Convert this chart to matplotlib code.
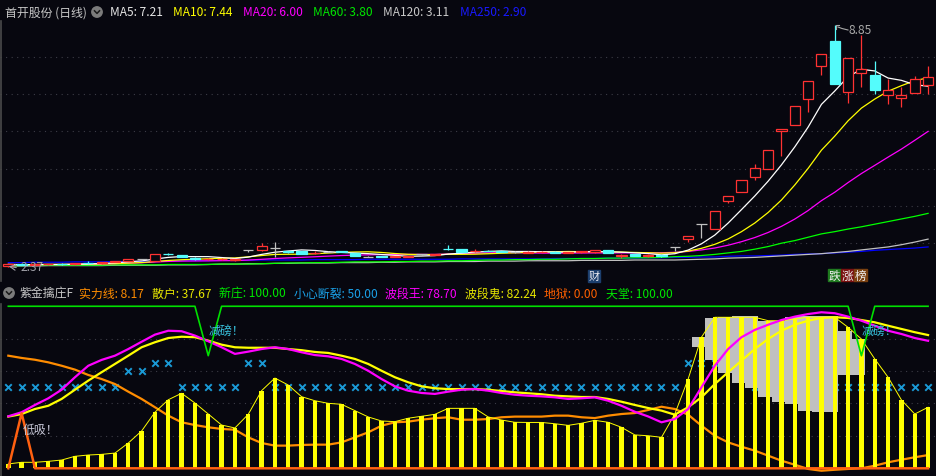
#!/usr/bin/env python
# Stock chart: candles + MAs on top, "紫金擒庄F" indicator below

import numpy as np
import pandas as pd
import matplotlib
matplotlib.use('Agg')
import matplotlib.pyplot as plt
from matplotlib.patches import Circle, Rectangle

plt.rcParams['font.family'] = ['Noto Sans CJK SC', 'DejaVu Sans']

# ---------------- data ----------------
opens = [2.38, 2.43, 2.42, 2.43, 2.44, 2.43, 2.47, 2.46, 2.50, 2.52,
         2.58, 2.53, 2.72, 2.68, 2.60, 2.57, 2.58, 2.54, 2.82, 2.82,
         2.87, 2.79, 2.79, 2.74, 2.77, 2.78, 2.73, 2.64, 2.65, 2.63,
         2.64, 2.70, 2.69, 2.85, 2.84, 2.78, 2.80, 2.79, 2.76, 2.74,
         2.76, 2.77, 2.75, 2.76, 2.76, 2.82, 2.67, 2.71, 2.65, 2.68,
         2.89, 3.10, 3.51, 3.38, 4.12, 4.36, 4.77, 4.98, 6.00, 6.16,
         6.86, 7.74, 8.42, 7.05, 7.56, 7.50, 6.98, 6.89, 7.02, 7.25]
highs = [2.44, 2.45, 2.44, 2.44, 2.46, 2.47, 2.52, 2.50, 2.52, 2.58,
         2.59, 2.71, 2.74, 2.69, 2.62, 2.60, 2.60, 2.59, 2.82, 3.00,
         3.04, 2.80, 2.80, 2.79, 2.78, 2.80, 2.74, 2.66, 2.66, 2.66,
         2.66, 2.71, 2.72, 2.96, 2.85, 2.84, 2.82, 2.80, 2.78, 2.78,
         2.78, 2.79, 2.77, 2.80, 2.83, 2.83, 2.70, 2.72, 2.70, 2.69,
         2.89, 3.18, 3.51, 3.86, 4.26, 4.69, 5.12, 5.49, 6.05, 6.67,
         7.34, 8.06, 8.85, 7.97, 8.58, 7.88, 7.40, 7.18, 7.47, 7.74]
lows = [2.37, 2.41, 2.41, 2.42, 2.42, 2.42, 2.45, 2.45, 2.49, 2.51,
        2.56, 2.52, 2.68, 2.62, 2.55, 2.55, 2.56, 2.53, 2.77, 2.78,
        2.64, 2.75, 2.71, 2.72, 2.76, 2.76, 2.66, 2.62, 2.62, 2.62,
        2.63, 2.68, 2.68, 2.83, 2.76, 2.77, 2.78, 2.76, 2.75, 2.73,
        2.75, 2.74, 2.74, 2.75, 2.75, 2.73, 2.61, 2.66, 2.62, 2.64,
        2.80, 3.03, 3.13, 3.38, 4.08, 4.36, 4.70, 4.98, 5.33, 6.16,
        6.51, 7.51, 7.28, 6.75, 7.20, 7.00, 6.72, 6.66, 7.02, 7.00]
closes = [2.43, 2.42, 2.43, 2.44, 2.43, 2.46, 2.46, 2.49, 2.52, 2.58,
          2.58, 2.71, 2.71, 2.63, 2.57, 2.58, 2.59, 2.58, 2.82, 2.93,
          2.87, 2.76, 2.72, 2.75, 2.77, 2.77, 2.67, 2.64, 2.64, 2.65,
          2.65, 2.70, 2.70, 2.84, 2.77, 2.80, 2.79, 2.77, 2.76, 2.77,
          2.77, 2.75, 2.76, 2.79, 2.82, 2.74, 2.69, 2.67, 2.69, 2.65,
          2.89, 3.18, 3.51, 3.86, 4.26, 4.69, 5.01, 5.49, 6.05, 6.67,
          7.34, 8.06, 7.28, 7.97, 7.66, 7.12, 7.11, 6.97, 7.39, 7.45]

ma60 = [2.40, 2.40, 2.41, 2.41, 2.41, 2.41, 2.41, 2.41, 2.42, 2.42,
        2.42, 2.42, 2.43, 2.43, 2.43, 2.43, 2.44, 2.44, 2.44, 2.45,
        2.46, 2.47, 2.47, 2.48, 2.48, 2.49, 2.50, 2.50, 2.50, 2.51,
        2.51, 2.52, 2.52, 2.53, 2.53, 2.54, 2.55, 2.55, 2.56, 2.56,
        2.57, 2.57, 2.58, 2.59, 2.59, 2.60, 2.60, 2.61, 2.61, 2.62,
        2.64, 2.65, 2.67, 2.70, 2.74, 2.78, 2.84, 2.91, 3.00, 3.07,
        3.16, 3.25, 3.31, 3.38, 3.44, 3.51, 3.58, 3.65, 3.72, 3.80]
ma120 = [2.39, 2.39, 2.39, 2.40, 2.40, 2.40, 2.40, 2.40, 2.41, 2.41,
         2.41, 2.41, 2.42, 2.42, 2.42, 2.43, 2.44, 2.44, 2.45, 2.45,
         2.46, 2.46, 2.47, 2.47, 2.47, 2.48, 2.48, 2.48, 2.49, 2.49,
         2.50, 2.50, 2.50, 2.51, 2.51, 2.51, 2.52, 2.52, 2.52, 2.53,
         2.53, 2.53, 2.53, 2.54, 2.54, 2.54, 2.54, 2.55, 2.55, 2.55,
         2.55, 2.56, 2.57, 2.58, 2.60, 2.61, 2.62, 2.64, 2.66, 2.68,
         2.70, 2.72, 2.75, 2.78, 2.82, 2.86, 2.90, 2.96, 3.03, 3.11]
ma250 = [2.48, 2.48, 2.49, 2.49, 2.49, 2.50, 2.50, 2.50, 2.51, 2.51,
         2.51, 2.52, 2.52, 2.53, 2.53, 2.53, 2.54, 2.54, 2.54, 2.55,
         2.55, 2.55, 2.55, 2.56, 2.56, 2.56, 2.56, 2.57, 2.57, 2.57,
         2.57, 2.57, 2.57, 2.57, 2.58, 2.58, 2.58, 2.58, 2.58, 2.58,
         2.58, 2.59, 2.59, 2.59, 2.59, 2.60, 2.60, 2.60, 2.61, 2.61,
         2.62, 2.62, 2.63, 2.63, 2.65, 2.66, 2.66, 2.67, 2.68, 2.70,
         2.71, 2.72, 2.74, 2.76, 2.78, 2.81, 2.83, 2.85, 2.87, 2.90]

top_names = ['MA5', 'MA10', 'MA20', 'MA60', 'MA120', 'MA250']
top_vals = [7.21, 7.44, 6.00, 3.80, 3.11, 2.90]

# indicator panel
sanhu = [2.7, 3.7, 3.7, 4.3, 5.1, 7.4, 8.2, 8.6, 9.4, 15.6,
         23.0, 34.6, 42.3, 46.3, 40.3, 33.5, 26.7, 24.9, 33.3, 47.9,
         55.7, 51.4, 44.2, 41.7, 40.1, 39.5, 35.6, 31.7, 29.2, 28.8,
         30.9, 32.1, 33.3, 37.0, 37.0, 37.0, 31.7, 29.8, 28.4, 28.3,
         28.3, 27.5, 26.5, 27.8, 29.6, 28.4, 25.3, 20.6, 20.1, 19.1,
         33.5, 55.1, 80.9, 93.2, 93.2, 93.2, 93.2, 91.1, 91.1, 92.2,
         93.2, 93.2, 93.2, 87.0, 79.8, 67.5, 56.2, 42.2, 33.5, 37.67]
bodua_wang = [32.1, 34.6, 39.1, 43.2, 48.5, 56.2, 63.3, 66.9, 69.5, 73.6,
              78.1, 82.5, 84.9, 84.6, 81.9, 78.4, 74.7, 70.6, 72.0, 73.6,
              74.7, 73.6, 71.6, 69.9, 69.1, 67.5, 64.4, 60.2, 55.1, 50.6,
              47.9, 46.5, 45.9, 47.3, 48.5, 48.9, 47.9, 46.5, 45.4, 44.8,
              44.4, 43.8, 42.8, 43.2, 43.8, 41.7, 38.6, 34.9, 32.0, 28.4,
              30.4, 36.6, 50.0, 63.3, 73.6, 80.9, 85.4, 88.6, 91.5, 93.6,
              95.2, 96.3, 95.7, 93.6, 91.1, 88.0, 84.9, 82.9, 80.4, 78.70]
bodua_gui = [31.9, 33.5, 36.6, 38.6, 42.8, 48.5, 54.1, 59.3, 64.4, 69.5,
             74.7, 77.8, 80.4, 81.2, 80.9, 78.8, 76.3, 74.7, 74.4, 74.4,
             74.4, 73.6, 72.9, 71.8, 71.2, 69.5, 67.5, 64.4, 60.2, 56.2,
             53.1, 50.6, 49.4, 48.9, 48.9, 48.9, 48.5, 47.7, 46.9, 46.3,
             45.7, 44.8, 44.4, 44.0, 44.0, 42.8, 41.1, 39.1, 37.2, 35.6,
             33.1, 37.7, 43.8, 52.0, 59.3, 66.4, 73.6, 79.8, 84.9, 88.6,
             91.1, 92.8, 93.2, 92.8, 91.5, 90.1, 88.0, 86.0, 84.0, 82.24]
shili = [69.5, 68.1, 67.0, 65.4, 63.3, 60.9, 57.6, 55.1, 52.0, 47.3,
         42.8, 37.7, 32.5, 28.4, 26.7, 25.3, 24.3, 23.8, 19.1, 15.6,
         14.0, 14.0, 14.4, 14.6, 14.6, 16.0, 19.1, 22.2, 26.3, 28.4,
         28.8, 30.0, 30.9, 31.5, 30.0, 30.0, 30.4, 31.5, 31.9, 31.9,
         31.9, 32.5, 32.5, 31.5, 31.0, 32.5, 33.5, 34.1, 36.0, 38.0,
         36.6, 33.1, 26.3, 20.1, 16.0, 13.3, 10.9, 7.8, 4.7, 2.2,
         -0.4, -1.5, -0.9, -0.4, 0.0, 1.6, 3.7, 5.3, 6.8, 8.17]
xinzhuang_idx = [51, 52, 53, 54, 55, 56, 57, 58, 59, 60, 61, 62, 63]
xinzhuang_top = [80.9, 92.8, 93.2, 93.8, 93.8, 90.7, 90.7, 93.6, 94.2, 94.2, 94.2, 84.9, 79.8]
xinzhuang_bot = [74.7, 67.0, 58.8, 52.5, 49.4, 44.2, 40.7, 39.7, 35.6, 34.6, 34.6, 57.6, 57.6]
duanlie = [50, 50, 50, 50, 50, 50, 50, 50, 50, 60,
           60, 65, 65, 50, 50, 50, 50, 50, 65, 65,
           50, 50, 50, 50, 50, 50, 50, 50, 50, 50,
           50, 50, 50, 50, 50, 50, 50, 50, 50, 50,
           50, 50, 50, 50, 50, 50, 50, 50, 50, 50,
           50, 65, 65, 65, 65, 65, 50, 50, 50, 50,
           50, 50, 50, 50, 50, 50, 50, 50, 50, 50]
tiantang = [100] * 15 + [69.5] + [100] * 48 + [69.5] + [100] * 5
diyu = [0, 34] + [0] * 68
sell_idx = [15, 64]   # 减磅！
buy_idx = [1]         # 低吸！

bot_names = ['实力线', '散户', '新庄', '小心断裂', '波段王', '波段鬼', '地狱', '天堂']
bot_vals = ['8.17', '37.67', '100.00', '50.00', '78.70', '82.24', '0.00', '100.00']

# ---------------- drawing ----------------
BG = '#07070f'
W, H = 937, 477
n = len(closes)
idx = np.arange(n)
cl = pd.Series(closes)
ma5 = cl.rolling(5, min_periods=1).mean()
ma10 = cl.rolling(10, min_periods=1).mean()
ma20 = cl.rolling(20, min_periods=1).mean()

fig = plt.figure(figsize=(W / 100, H / 100), dpi=100, facecolor=BG)

def px_axes(x0, y0, x1, y1):
    return fig.add_axes([x0 / W, 1 - y1 / H, (x1 - x0) / W, (y1 - y0) / H])

xlim = (-0.623, 69.67)

# top panel
ax = px_axes(0, 22, W, 282)
ax.set_facecolor(BG)
ax.set_xlim(*xlim)
ax.set_ylim(1.987, 8.957)
ax.axis('off')
for g in [3, 4, 5, 6, 7, 8]:
    ax.axhline(g, color='#3c3c46', lw=0.8, ls=(0, (1, 4)), zorder=0)

ax.plot(idx, ma250, color='#0000ff', lw=0.9, zorder=1)
ax.plot(idx, ma120, color='#c0c0c0', lw=0.9, zorder=1)
ax.plot(idx, ma60, color='#00ff00', lw=0.9, zorder=1)
ax.plot(idx, ma20, color='#ff00ff', lw=0.9, zorder=1)
ax.plot(idx, ma10, color='#ffff00', lw=0.9, zorder=1)
ax.plot(idx, ma5, color='#ffffff', lw=0.9, zorder=1)

for i in range(n):
    o, h, l, c = opens[i], highs[i], lows[i], closes[i]
    if c > o:
        col, face = '#ff3232', BG
    elif c < o:
        col, face = '#54fcfc', '#54fcfc'
    else:
        col, face = '#c0c0c0', BG
    ax.vlines(i, l, h, color=col, lw=0.9, zorder=2)
    if c == o:
        ax.hlines(o, i - 0.38, i + 0.38, color=col, lw=0.9, zorder=3)
    else:
        ax.bar(i, abs(c - o), bottom=min(o, c), width=0.76, color=face,
               edgecolor=col, linewidth=0.9, zorder=3)

# bottom panel
ax2 = px_axes(0, 305, W, H)
ax2.set_facecolor(BG)
ax2.set_xlim(*xlim)
ax2.set_ylim(-4.75, 101.4)
ax2.axis('off')
for g in [20, 40, 60, 80]:
    ax2.axhline(g, color='#3c3c46', lw=0.8, ls=(0, (1, 4)), zorder=0)

ax2.scatter(idx, duanlie, marker='x', s=22, color='#1a9ad6', linewidths=1.4, zorder=1)
ax2.bar(np.array(xinzhuang_idx) + 0.27, np.array(xinzhuang_top) - np.array(xinzhuang_bot),
        bottom=xinzhuang_bot, width=1.0, align='edge', color='#c0c0c0', zorder=2)
ax2.plot(idx, shili, color='#ff8c00', lw=1.6, zorder=2.5)
ax2.bar(idx, sanhu, width=0.33, color='#ffff00', zorder=3)
ax2.plot(idx, sanhu, color='#ffff00', lw=0.7, zorder=3)
ax2.plot(idx, bodua_gui, color='#ffff00', lw=1.6, zorder=5)
ax2.plot(idx, bodua_wang, color='#ff00ff', lw=1.6, zorder=5)
ax2.plot(idx, tiantang, color='#00e000', lw=1.2, zorder=6)
ax2.plot(idx, diyu, color='#ff6010', lw=1.8, zorder=6)
for i in sell_idx:
    ax2.text(i, 85, '减磅！', color='#38c0dc', fontsize=8.6, ha='left', va='center', zorder=7)
for i in buy_idx:
    ax2.text(i + 0.05, 24, '低吸！', color='#c8c8d8', fontsize=8.6, ha='left', va='center', zorder=7)

# overlay in pixel coords for header text and labels
ov = fig.add_axes([0, 0, 1, 1], zorder=10)
ov.set_xlim(0, W)
ov.set_ylim(H, 0)
ov.axis('off')
ov.patch.set_alpha(0)

ov.plot([1, 1], [22, 282], color='#4a4a4a', lw=1.2)
ov.plot([1, 1], [305, H], color='#4a4a4a', lw=1.2)

def icon(x, y):
    ov.add_patch(Circle((x, y), 5.2, color='#7c7c7c'))
    ov.plot([x - 2.5, x, x + 2.5], [y - 1.2, y + 1.4, y - 1.2], color='#1a1a1a', lw=1.1)

fs = 8.6
ov.text(5, 13, '首开股份 (日线)', color='#c8c8c8', fontsize=fs, va='center')
icon(97, 13)
top_x = [110, 173, 243, 313, 383, 460]
top_cols = ['#e6e6e6', '#ffff00', '#ff00ff', '#00e600', '#c8c8c8', '#1818ff']
for name, v, x, c in zip(top_names, top_vals, top_x, top_cols):
    ov.text(x, 13, f'{name}: {v:.2f}', color=c, fontsize=fs, va='center')

icon(9, 294)
ov.text(20, 294, '紫金擒庄F', color='#c8c8c8', fontsize=fs, va='center')
bot_x = [79, 152, 219, 294, 385, 465, 544, 606]
bot_cols = ['#ff8c00', '#e8e800', '#00e600', '#1aa0e6', '#ff00ff', '#e8e800', '#ff6000', '#00e600']
for name, v, x, c in zip(bot_names, bot_vals, bot_x, bot_cols):
    ov.text(x, 294, f'{name}: {v}', color=c, fontsize=fs, va='center')

# high / low labels
ov.plot([836, 836, 839], [30, 25.5, 25.5], color='#a8a8a8', lw=0.8)
ov.plot([838, 842, 848], [28, 29.5, 31], color='#a8a8a8', lw=0.8)
ov.text(849, 31, '8.85', color='#a8a8a8', fontsize=fs, va='center')
ov.annotate('', xy=(6, 267), xytext=(19, 269),
            arrowprops=dict(arrowstyle='->', color='#a0a0a8', lw=0.8))
ov.text(21, 268, '2.37', color='#a0a0a8', fontsize=fs, va='center')

# event tags
ov.add_patch(Rectangle((588, 271), 12, 12, color='#1c3f6e'))
ov.text(594, 277, '财', color='#e8e8f0', fontsize=8, ha='center', va='center')
for k, (ch, bg) in enumerate(zip('跌涨榜', ['#1f7a1f', '#7a1010', '#7a4010'])):
    ov.add_patch(Rectangle((828 + 13 * k, 270), 13, 12, color=bg))
    ov.text(834.5 + 13 * k, 276, ch, color='#f0f0f0', fontsize=8.4, ha='center', va='center')

fig.savefig('out.png', dpi=100, facecolor=BG)
